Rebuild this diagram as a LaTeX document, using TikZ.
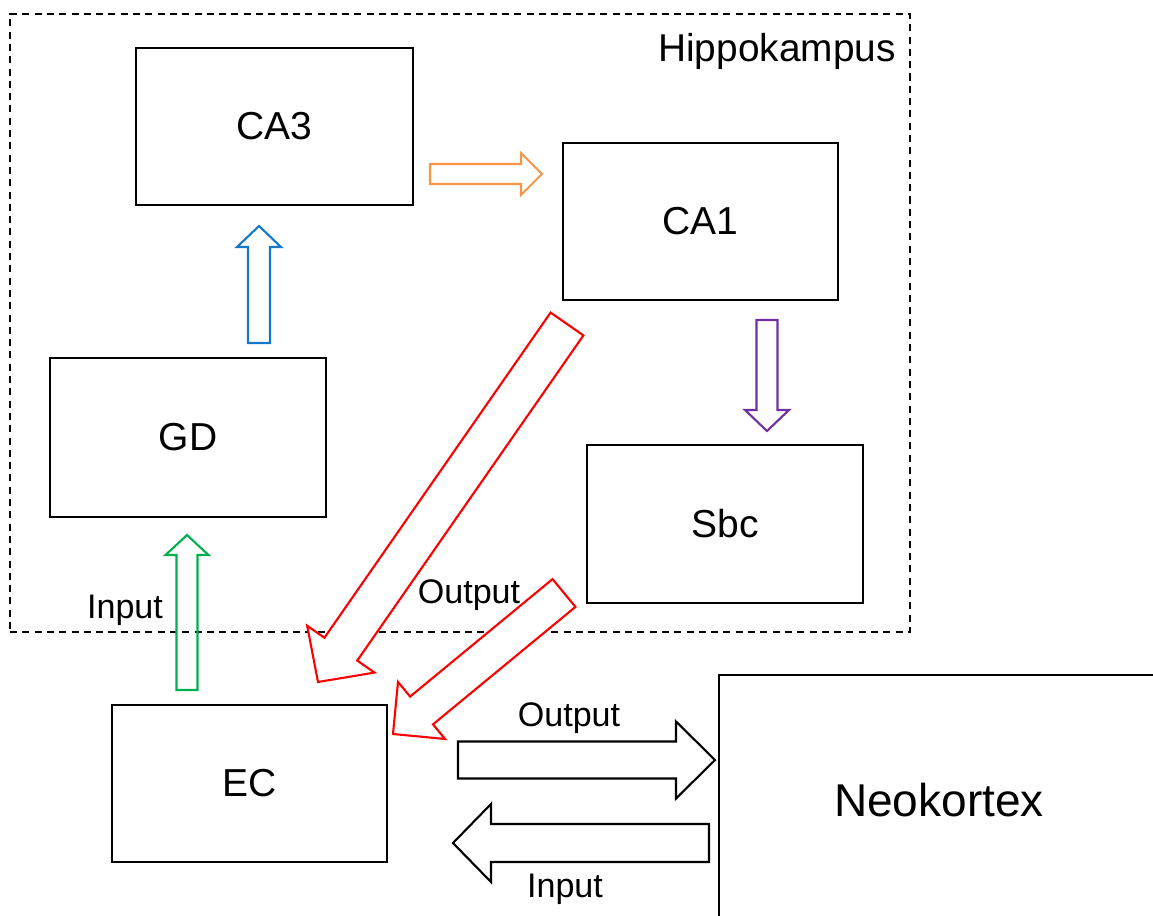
\documentclass[tikz,border=0pt]{standalone}
\usepackage{fontspec}
\setmainfont{Liberation Sans}
\usetikzlibrary{calc}
\definecolor{arrorange}{RGB}{247,150,70}
\definecolor{arrblue}{RGB}{20,120,200}
\definecolor{arrpurple}{RGB}{112,48,160}
\definecolor{arrgreen}{RGB}{0,176,80}
\definecolor{arrred}{RGB}{255,0,0}
% block arrow: options, start, tip, shaft half width, head half width, head length
\newcommand{\blockarr}[6]{%
  \coordinate (hb) at ($(#3)!#6!(#2)$);
  \draw[blockarrow,#1] ($(#2)!#4!90:(#3)$) -- ($(hb)!#4!90:(#3)$) -- ($(hb)!#5!90:(#3)$) -- (#3)
     -- ($(hb)!#5!-90:(#3)$) -- ($(hb)!#4!-90:(#3)$) -- ($(#2)!#4!-90:(#3)$) -- cycle;}
\begin{document}
\begin{tikzpicture}[x=0.02cm,y=-0.02cm,
  box/.style={draw, line width=1.1pt, inner sep=0pt, font=\fontsize{22.2}{26}\selectfont},
  blockarrow/.style={line width=1.2pt, line join=miter, fill=white},
  lbl/.style={font=\fontsize{19.4}{23}\selectfont, anchor=base, inner sep=0pt},
  frame/.style={draw, line width=1.1pt, dash pattern=on 4pt off 3pt, inner sep=0pt}]
\useasboundingbox (0,0) rectangle (1153,916);

% Hippocampus frame
\node[frame, minimum width=18cm, minimum height=12.36cm] (hippo) at (460,323) {};
\node[font=\fontsize{22.1}{26}\selectfont, anchor=base east, inner sep=0pt] (hlabel) at (896,61) {Hippokampus};

% boxes
\node[box, minimum width=5.54cm, minimum height=3.14cm] (ca3) at (274.5,126.5) {CA3};
\node[box, minimum width=5.5cm, minimum height=3.14cm] (ca1) at (700.5,221.5) {CA1};
\node[box, minimum width=5.52cm, minimum height=3.18cm] (gd) at (188,437.5) {GD};
\node[box, minimum width=5.52cm, minimum height=3.16cm] (sbc) at (725,524) {Sbc};
\node[box, minimum width=5.5cm, minimum height=3.14cm] (ec) at (249.5,783.5) {EC};
\node[box, minimum width=8.8cm, minimum height=5cm, font=\fontsize{26.2}{30}\selectfont] (neo) at (939,800) {Neokortex};

% arrow end points
\coordinate (oS) at (430,174);  \coordinate (oT) at (542,174);
\coordinate (bS) at (259,343);  \coordinate (bT) at (259,226);
\coordinate (pS) at (767,320);  \coordinate (pT) at (767,431);
\coordinate (gS) at (187,690);  \coordinate (gT) at (187,535);
\coordinate (r1S) at (567,324); \coordinate (r1T) at (318,682);
\coordinate (r2S) at (564,593); \coordinate (r2T) at (393,734);
\coordinate (kS) at (458,760);  \coordinate (kT) at (715,760);
\coordinate (iS) at (709,843);  \coordinate (iT) at (453,843);

\blockarr{draw=arrorange}{oS}{oT}{0.2cm}{0.42cm}{0.42cm}
\blockarr{draw=arrblue}{bS}{bT}{0.22cm}{0.44cm}{0.42cm}
\blockarr{draw=arrpurple}{pS}{pT}{0.21cm}{0.44cm}{0.42cm}
\blockarr{draw=arrgreen, fill=none}{gS}{gT}{0.21cm}{0.43cm}{0.40cm}
\blockarr{draw=arrred}{r1S}{r1T}{0.4cm}{0.82cm}{0.8cm}
\blockarr{draw=arrred}{r2S}{r2T}{0.36cm}{0.74cm}{0.74cm}
\blockarr{draw=black}{kS}{kT}{0.37cm}{0.77cm}{0.78cm}
\blockarr{draw=black}{iS}{iT}{0.38cm}{0.78cm}{0.76cm}

% labels
\node[lbl] (lin1) at (125,618) {Input};
\node[lbl] (lout1) at (469,603) {Output};
\node[lbl] (lout2) at (569,726) {Output};
\node[lbl] (lin2) at (565,897) {Input};
\end{tikzpicture}
\end{document}
